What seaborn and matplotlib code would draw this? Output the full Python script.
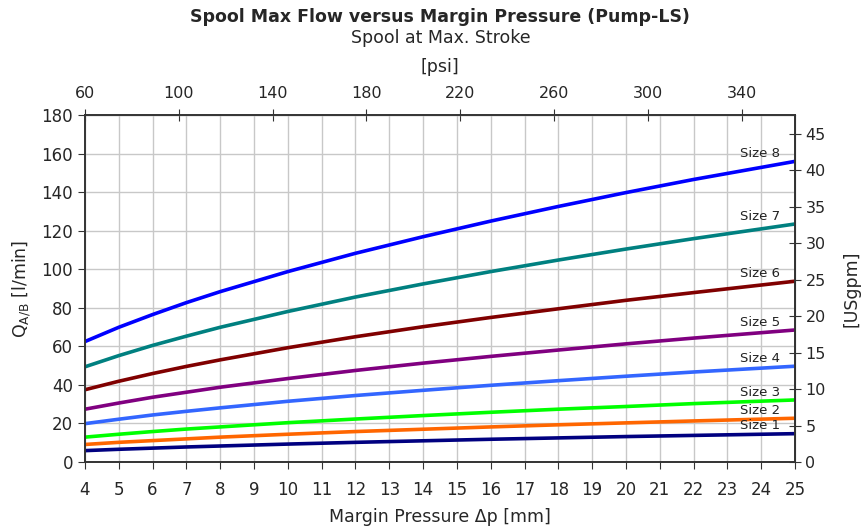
import numpy as np
import pandas as pd
import matplotlib
matplotlib.use('Agg')
import matplotlib.pyplot as plt
import seaborn as sns

# margin pressure (axis says mm) and flow per spool size [l/min]
dp = [4, 5, 6, 7, 8, 10, 12, 14, 16, 18, 20, 22, 25]
size_1 = [5.9, 6.6, 7.2, 7.8, 8.3, 9.3, 10.2, 11.0, 11.8, 12.5, 13.2, 13.8, 14.7]
size_2 = [9.1, 10.2, 11.1, 12.0, 12.9, 14.4, 15.8, 17.0, 18.2, 19.3, 20.3, 21.3, 22.7]
size_3 = [12.9, 14.4, 15.8, 17.1, 18.2, 20.4, 22.3, 24.1, 25.8, 27.4, 28.8, 30.3, 32.2]
size_4 = [19.9, 22.2, 24.4, 26.3, 28.1, 31.5, 34.5, 37.2, 39.8, 42.2, 44.5, 46.7, 49.7]
size_5 = [27.4, 30.6, 33.6, 36.2, 38.8, 43.3, 47.5, 51.3, 54.8, 58.1, 61.3, 64.3, 68.5]
size_6 = [37.5, 41.9, 45.9, 49.6, 53.0, 59.3, 65.0, 70.2, 75.0, 79.5, 83.9, 87.9, 93.8]
size_7 = [49.4, 55.2, 60.5, 65.3, 69.9, 78.1, 85.6, 92.4, 98.8, 104.8, 110.5, 115.9, 123.5]
size_8 = [62.5, 69.9, 76.5, 82.7, 88.4, 98.8, 108.3, 116.9, 125.0, 132.6, 139.8, 146.6, 156.0]

sizes = ['Size 1', 'Size 2', 'Size 3', 'Size 4', 'Size 5', 'Size 6', 'Size 7', 'Size 8']
series = [size_1, size_2, size_3, size_4, size_5, size_6, size_7, size_8]
colors = ['#000080', '#FF6600', '#00FF00', '#3366FF', '#800080', '#800000', '#008080', '#0000FF']

# top axis in the source is linear: 60 psi at the left edge, ~14.42 psi per unit
PSI_START = 60
PSI_PER_UNIT = 14.42
LPM_TO_GPM = 1 / 3.785

df = pd.concat([pd.DataFrame({'dp': dp, 'q': s, 'size': n}) for n, s in zip(sizes, series)])

sns.set_style('ticks')
plt.rcParams['font.family'] = ['DejaVu Sans']

fig = plt.figure(figsize=(8.67, 5.28), dpi=100)
ax = fig.add_axes([0.098, 0.125, 0.819, 0.657])

sns.lineplot(data=df, x='dp', y='q', hue='size', palette=dict(zip(sizes, colors)),
             linewidth=2.6, legend=False, ax=ax)

ax.set_xlim(4, 25)
ax.set_ylim(0, 180)
ax.set_xticks(range(4, 26))
ax.set_yticks(range(0, 181, 20))
ax.grid(True, color='#c8c8c8', linewidth=1)
ax.set_axisbelow(True)
for sp in ax.spines.values():
    sp.set_color('#333333')
    sp.set_linewidth(1.4)
ax.tick_params(labelsize=12, color='#333333', length=5)
ax.tick_params(axis='x', pad=9)
ax.set_xlabel('Margin Pressure \u0394p [mm]', fontsize=12.5, labelpad=6)
ax.set_ylabel(r'Q$_{\mathrm{A/B}}$ [l/min]', fontsize=12.5, labelpad=6)

top = ax.secondary_xaxis('top', functions=(lambda b: PSI_START + (b - 4) * PSI_PER_UNIT,
                                           lambda p: 4 + (p - PSI_START) / PSI_PER_UNIT))
top.set_xticks(range(60, 341, 40))
top.tick_params(labelsize=11.5, direction='inout', length=8, color='#333333', pad=6)
top.set_xlabel('[psi]', fontsize=12.5, labelpad=10)

right = ax.secondary_yaxis('right', functions=(lambda q: q * LPM_TO_GPM, lambda g: g / LPM_TO_GPM))
right.set_yticks(range(0, 46, 5))
right.tick_params(labelsize=11.5, direction='inout', length=8, color='#333333')
right.set_ylabel('[USgpm]', fontsize=12.5, labelpad=12)

for n, s in zip(sizes, series):
    ax.annotate(n, xy=(24.55, s[-1] - 0.3), xytext=(0, 6), textcoords='offset points',
                ha='right', va='center', fontsize=9.5, color='#222222')

fig.text(0.508, 0.967, 'Spool Max Flow versus Margin Pressure (Pump-LS)',
         ha='center', va='center', fontsize=12.5, fontweight='bold')
fig.text(0.508, 0.928, 'Spool at Max. Stroke', ha='center', va='center', fontsize=12.5)

fig.savefig('out.png', dpi=100)
